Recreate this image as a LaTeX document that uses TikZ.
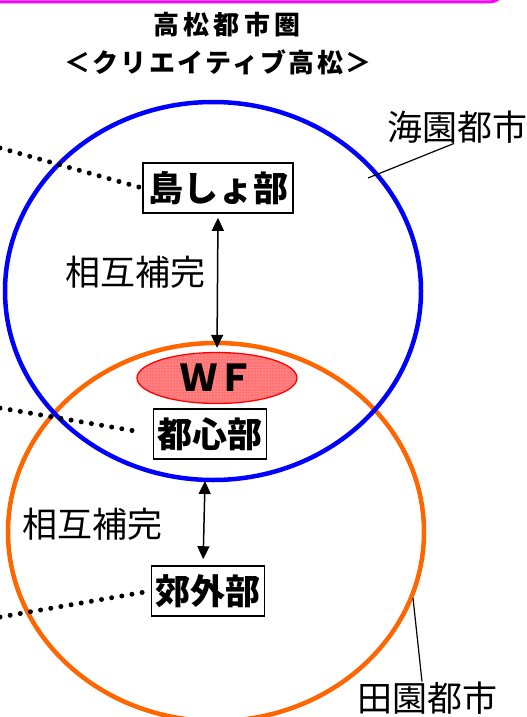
\documentclass[tikz,border=0pt]{standalone}
\usepackage{fontspec}
\setmainfont{Noto Sans CJK JP}
\usepackage{tikz}
\usetikzlibrary{arrows.meta, positioning, shapes.geometric, patterns}
\definecolor{kaiblue}{RGB}{0,0,255}
\definecolor{denorange}{RGB}{255,102,0}
\definecolor{bandmagenta}{RGB}{255,0,255}
\definecolor{wfpink}{RGB}{255,128,128}

\begin{document}
\begin{tikzpicture}[x=1pt, y=-1pt,
			>={Triangle[length=13pt,width=12pt]},
			area/.style={line width=4.5pt},
			part/.style={draw, fill=white, line width=1.6pt, inner xsep=4pt, inner ysep=0pt,
				minimum height=50pt, font=\fontsize{35}{35}\selectfont\bfseries},
			lbl/.style={inner sep=0pt, font=\fontsize{35}{35}\selectfont},
			dotline/.style={line width=5pt, line cap=round, dash pattern=on 0pt off 10.3pt},
			link/.style={<->, line width=1.5pt},
			lead/.style={line width=1.2pt}]

			\useasboundingbox (0,0) rectangle (527,717);
			\clip (0,0) rectangle (527,717);

			\draw[bandmagenta, line width=3pt, rounded corners=16pt] (-20,-60) rectangle (505,2);
			\node[inner sep=0pt, font=\fontsize{26}{26}\selectfont\bfseries] (title1) at (227,25) {\addfontfeature{LetterSpace=17}高松都市圏};
			\node[inner sep=0pt, font=\fontsize{26}{26}\selectfont\bfseries] (title2) at (218,62) {\addfontfeature{LetterSpace=9}＜クリエイティブ高松＞};

			\draw[area, denorange] (216,532) ellipse (208 and 189);
			\draw[area, kaiblue] (213,291) ellipse (208 and 189);

			\node[part, minimum width=150pt] (shima) at (218,188) {島しょ部};
			\node[part, minimum width=113pt] (toshin) at (210,434) {都心部};
			\node[part, minimum width=112pt] (kogai) at (208,591) {郊外部};
			\node[ellipse, draw=red, line width=1.3pt, fill=wfpink,
				postaction={pattern=dots, pattern color=red!70!wfpink},
				minimum width=160pt, minimum height=51pt, inner sep=0pt,
				font=\fontsize{37}{37}\selectfont\bfseries] (wf) at (217,378) {ＷＦ};

			\node[lbl] (sogo1) at (135,272) {相互補完};
			\node[lbl] (sogo2) at (92,524) {相互補完};
			\node[lbl] (kaien) at (457,127) {海園都市};
			\node[lbl] (denen) at (427,698) {田園都市};

			\coordinate (d1) at (0,148);
			\coordinate (d2) at (0,408);
			\coordinate (d3) at (0,617);
			\coordinate (kaibot) at (205,481);
			\coordinate (kaipt) at (368,178);
			\coordinate (denpt) at (413,598);

			\draw[dotline] (d1) -- (shima.west);
			\draw[dotline, shorten >=20pt] (d2) -- (toshin.west);
			\draw[dotline] (d3) -- (kogai.west);

			\draw[link, shorten <=4pt, shorten >=4pt] (shima.south) -- (wf.north);
			\draw[link, shorten >=6pt] (kaibot) -- ([xshift=-5pt]kogai.north);

			\draw[lead] ([xshift=-3pt]kaien.south) -- (kaipt);
			\draw[lead] ([xshift=-5pt]denen.north) -- (denpt);
		\end{tikzpicture}
\end{document}
